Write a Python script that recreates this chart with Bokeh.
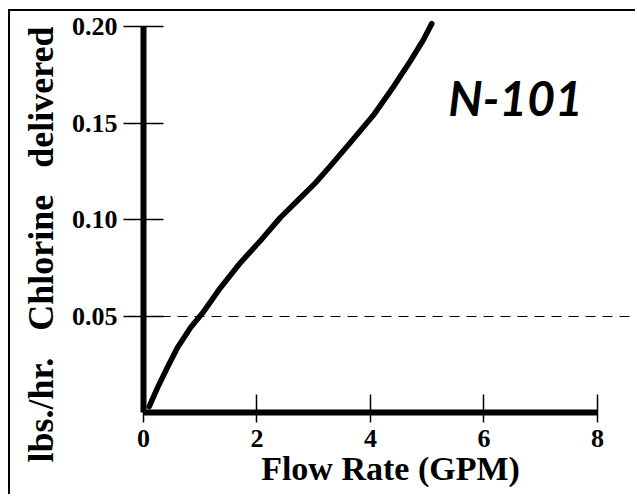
from bokeh.plotting import figure
from bokeh.models import Range1d, FixedTicker, Label, Title
from bokeh.embed import file_html
from bokeh.resources import INLINE

# ---- data ----
flow_gpm = [0.10, 0.25, 0.42, 0.60, 0.83, 1.04, 1.36, 1.71, 2.06, 2.41, 2.77, 3.03,
            3.30, 3.65, 4.05, 4.41, 4.70, 4.93, 5.08]
chlorine_lbs_hr = [0.003, 0.013, 0.0233, 0.0337, 0.044, 0.0515, 0.0648, 0.0777, 0.089,
                   0.101, 0.1114, 0.119, 0.128, 0.140, 0.154, 0.169, 0.182, 0.193, 0.2015]

x_ticks = [0, 2, 4, 6, 8]
x_tick_labels = ["0", "2", "4", "6", "8"]
y_ticks = [0.05, 0.10, 0.15, 0.20]
y_tick_labels = ["0.05", "0.10", "0.15", "0.20"]
reference_line = [0.05]
model_name = "N-101"
x_label = "Flow Rate (GPM)"
y_label = "lbs./hr.\u00a0\u00a0 Chlorine\u00a0\u00a0 delivered"

SERIF = "Liberation Serif"

# the scanned sheet's frame (left and top edges) is drawn as a CSS border
p = figure(width=627, height=485, output_backend="svg", toolbar_location=None,
           x_range=Range1d(0, 8.705), y_range=Range1d(0, 0.2052),
           min_border_left=133, min_border_right=0, min_border_top=5,
           min_border_bottom=84)
p.styles = {"margin-left": "8px", "margin-top": "9px",
            "border-left": "2px solid black", "border-top": "2px solid black"}
p.outline_line_color = None
p.background_fill_color = "white"
p.border_fill_color = "white"

# grid: only the dashed line at 0.05
p.xgrid.visible = False
p.ygrid.ticker = FixedTicker(ticks=reference_line)
p.ygrid.grid_line_color = "black"
p.ygrid.grid_line_width = 1
p.ygrid.grid_line_dash = "10 7"

for ax in (p.xaxis[0], p.yaxis[0]):
    ax.axis_line_width = 6
    ax.axis_line_color = "black"
    ax.major_tick_line_color = "black"
    ax.major_tick_line_width = 1.5
    ax.minor_tick_line_color = None
    ax.major_label_text_font = SERIF
    ax.major_label_text_font_style = "bold"
    ax.major_label_text_font_size = "26px"
    ax.major_label_text_color = "black"
    ax.axis_label_text_font = SERIF
    ax.axis_label_text_font_style = "bold"
    ax.axis_label_text_color = "black"

xa = p.xaxis[0]
xa.ticker = FixedTicker(ticks=x_ticks)
xa.major_label_overrides = dict(zip(x_ticks, x_tick_labels))
xa.bounds = (0, 8)
xa.major_tick_in = 18
xa.major_tick_out = 10
xa.major_label_standoff = 7
xa.axis_label = x_label
xa.axis_label_text_font_size = "34px"
xa.axis_label_standoff = 0

ya = p.yaxis[0]
ya.ticker = FixedTicker(ticks=y_ticks)
ya.major_label_overrides = dict(zip(y_ticks, y_tick_labels))
ya.bounds = (0, 0.2)
ya.major_tick_in = 20
ya.major_tick_out = 20
ya.major_label_standoff = 6

# y-axis title placed as a side title (outside the axis) so it can start below the axis
ytitle = Title(text=y_label, align="left", offset=-50, standoff=16,
               text_font=SERIF, text_font_style="bold", text_font_size="36px",
               text_color="black", vertical_align="bottom")
p.add_layout(ytitle, "left")

p.line(flow_gpm, chlorine_lbs_hr, line_color="black", line_width=5.5, line_cap="round",
       line_join="round")

p.add_layout(Label(x=5.37, y=0.1487, text=model_name, text_font="Lato",
                   text_font_style="bold italic", text_font_size="48px",
                   text_baseline="bottom", text_color="black"))

open("out.html", "w").write(file_html(p, INLINE))
